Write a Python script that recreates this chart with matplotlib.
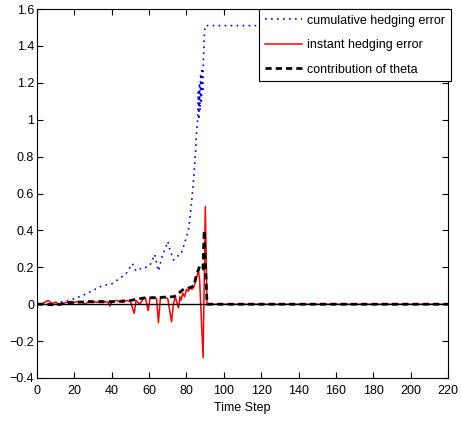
import matplotlib as mpl
import matplotlib.pyplot as plt

mpl.rcParams['font.family'] = ['Liberation Sans', 'DejaVu Sans']
mpl.rcParams['font.size'] = 9

# cumulative hedging error (blue dotted)
t_cum = [0, 5, 10, 15, 20, 25, 30, 35, 40, 45, 48, 51, 53, 55, 57, 59, 61, 63, 65,
         67, 69, 70, 71, 73, 75, 77, 79, 81, 82, 83, 84, 85, 85.5, 86, 86.3, 86.6,
         87, 87.3, 87.6, 88, 88.3, 88.7, 89, 89.5, 90, 220]
cum_err = [0.0, 0.0, 0.01, 0.015, 0.03, 0.05, 0.075, 0.1, 0.11, 0.145, 0.17, 0.22,
           0.18, 0.19, 0.2, 0.2, 0.22, 0.27, 0.18, 0.26, 0.31, 0.34, 0.3, 0.24, 0.26,
           0.27, 0.33, 0.4, 0.48, 0.58, 0.7, 0.85, 0.95, 1.0, 1.15, 1.0, 1.2, 1.05,
           1.25, 1.1, 1.28, 1.15, 1.3, 1.45, 1.51, 1.51]

# instant hedging error (red)
t_inst = [0, 2, 4, 6, 8, 10, 12, 14, 16, 18, 20, 22, 24, 26, 28, 30, 32, 34, 36, 38,
          39, 40, 42, 44, 46, 48, 50, 52, 53, 55, 57, 58, 59.5, 60.5, 62, 64, 65, 66,
          68, 70, 72, 73, 74, 75.7, 76.5, 77, 78, 79, 80, 81, 82, 83, 84, 85, 86.4,
          87, 88.9, 90.1, 91, 220]
inst_err = [0.0, 0.0, 0.01, 0.02, 0.005, 0.01, 0.0, 0.005, 0.01, 0.015, 0.01, 0.015,
            0.01, 0.0, 0.02, 0.015, 0.01, 0.02, 0.015, 0.01, -0.01, 0.01, 0.02, 0.015,
            0.01, 0.02, 0.015, -0.05, 0.02, 0.0, 0.03, 0.035, -0.035, 0.03, 0.04, 0.03,
            -0.1, 0.03, 0.04, 0.03, -0.095, 0.0, 0.04, -0.02, 0.04, 0.02, 0.06, 0.04,
            0.08, 0.07, 0.09, 0.08, 0.095, 0.13, 0.18, 0.14, -0.29, 0.53, 0.0, 0.0]

# contribution of theta (black dashed)
t_theta = [0, 5, 10, 15, 20, 27, 33, 37, 43, 50, 55, 58, 61, 65, 70, 73, 75, 77, 79,
           82, 84, 85, 87, 88.8, 89.5, 91, 220]
theta = [0.0, 0.0, -0.005, 0.005, 0.01, 0.013, 0.013, 0.013, 0.015, 0.02, 0.03,
         0.035, 0.035, 0.035, 0.04, 0.04, 0.05, 0.07, 0.085, 0.09, 0.1, 0.145, 0.205,
         0.19, 0.4, 0.0, 0.0]

xticks = list(range(0, 221, 20))
yticks = [-0.4, -0.2, 0, 0.2, 0.4, 0.6, 0.8, 1, 1.2, 1.4, 1.6]
ytick_labels = ['\u22120.4', '\u22120.2', '0', '0.2', '0.4', '0.6', '0.8', '1',
                '1.2', '1.4', '1.6']


fig = plt.figure(figsize=(4.61, 4.23), dpi=100)
ax = fig.add_axes([0.0803, 0.1064, 0.8915, 0.8723])

ax.plot(t_cum, cum_err, color='#0000ff', linewidth=1.2, dashes=(1, 2.6),
        label='cumulative hedging error')
ax.plot(t_inst, inst_err, color='#ff0000', linewidth=1.1,
        label='instant hedging error')
ax.axhline(0, color='black', linewidth=1, zorder=2.5)
ax.plot(t_theta, theta, color='black', linewidth=2, dashes=(2.2, 1.5),
        label='contribution of theta', zorder=3)

ax.set_xlim(0, 220)
ax.set_ylim(-0.4, 1.6)
ax.set_xticks(xticks)
ax.set_yticks(yticks)
ax.set_yticklabels(ytick_labels)
ax.tick_params(direction='in', top=True, right=True, length=4, width=0.8,
               labelsize=9)
ax.tick_params(axis='x', pad=5)
ax.tick_params(axis='y', pad=2)
for s in ax.spines.values():
    s.set_linewidth(0.8)
ax.set_xlabel('Time Step', fontsize=9, labelpad=4)

leg = ax.legend(loc='upper right', bbox_to_anchor=(451 / 461, 1 - 9 / 423),
                bbox_transform=fig.transFigure, fancybox=False, framealpha=1,
                edgecolor='black', handlelength=3, handletextpad=0.4,
                labelspacing=1.0, borderpad=0.45, borderaxespad=0, fontsize=9)
leg.get_frame().set_linewidth(0.8)

fig.savefig('out.png', dpi=100)
